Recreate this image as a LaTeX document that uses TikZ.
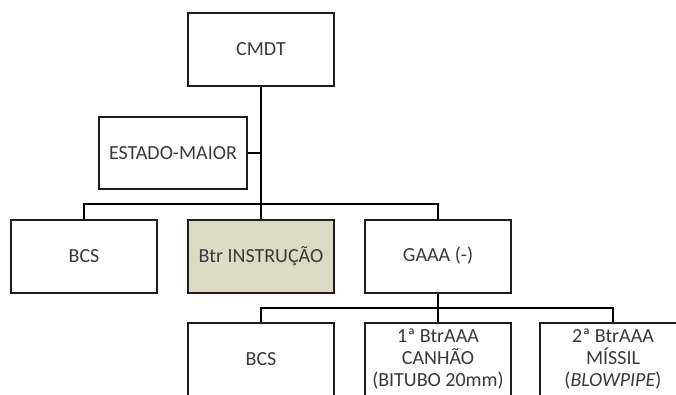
\documentclass[tikz,border=0pt]{standalone}
\usepackage{fontspec}
\setmainfont{Carlito}
\definecolor{txtgray}{HTML}{3A3A3A}
\definecolor{edge}{HTML}{1E1E1E}
\definecolor{beige}{HTML}{DDD9C3}
\tikzset{
  unit/.style={draw=edge, line width=2pt, fill=white, minimum width=146pt, minimum height=73pt,
    inner sep=0pt, align=center, text=txtgray, font=\fontsize{20}{22}\selectfont},
  link/.style={draw=black, line width=2pt}
}
\begin{document}
\begin{tikzpicture}[x=1pt,y=-1pt]
\useasboundingbox (0,0) rectangle (676,394);
\clip (0,0) rectangle (676,394);
\node[unit] (cmdt) at (261,49.5) {CMDT};
\node[unit, minimum width=148pt, minimum height=72pt] (em) at (173,153) {ESTADO-MAIOR};
\node[unit] (bcs1) at (84,256.5) {BCS};
\node[unit, fill=beige] (btr) at (261,256.5) {Btr INSTRUÇÃO};
\node[unit] (gaaa) at (438,256) {GAAA (-)};
\node[unit] (bcs2) at (261,359.5) {BCS};
\node[unit] (c1) at (438,359.5) {1ª BtrAAA\\CANHÃO\\(BITUBO 20mm)};
\node[unit] (c2) at (613,359.5) {2ª BtrAAA\\MÍSSIL\\(\textit{BLOWPIPE})};
\coordinate (j1) at (261,204);
\coordinate (jem) at (261,153);
\coordinate (j2) at (438,308);
\draw[link] (cmdt.south) -- (btr.north);
\draw[link] (em.east) -- (jem);
\draw[link] (bcs1.north) |- (j1) -| (gaaa.north);
\draw[link] (gaaa.south) -- (c1.north);
\draw[link] (bcs2.north) |- (j2) -| (c2.north);
\end{tikzpicture}
\end{document}
